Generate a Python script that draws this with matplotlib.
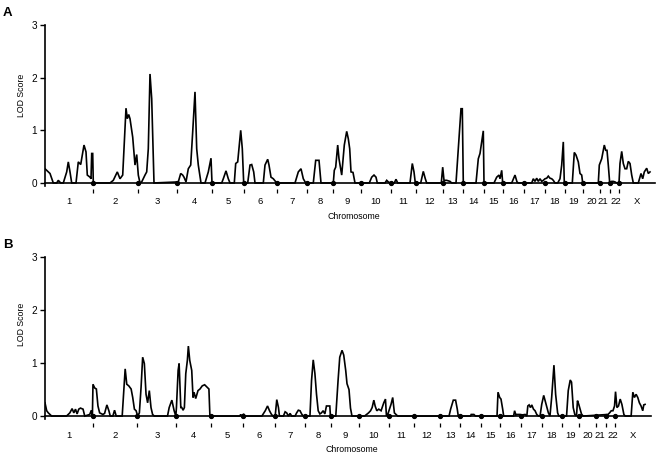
import matplotlib

matplotlib.use("Agg")
import matplotlib.pyplot as plt

plt.rcParams["font.family"] = ["Liberation Sans", "DejaVu Sans"]

# chromosome layout along the genome axis (cumulative position units)
chrom_labels = [str(i) for i in range(1, 23)] + ["X"]
chrom_ends = [48, 93, 132, 167, 199, 232, 262, 288, 316, 346, 371, 398,
              418, 439, 458, 479, 500, 520, 538, 555, 565, 574]
genome_len = 610

# panel A: LOD profile
pos_a = [0, 5, 8.3, 11.7, 13.3, 15.7, 18.3, 21.7, 23.3, 25, 26.7, 31, 33.3, 35.7, 39, 41, 42.3, 45, 46, 46.7, 47.7, 48.3,
         65, 68.3, 72.3, 75, 77.7, 81, 82.3, 83.7, 85, 87.7, 90, 91.7, 93.3, 95,
         96.7, 100, 101.7, 103.3, 105, 106.7, 109,
         133.3, 135.7, 137.7, 139, 141, 143.3, 145.7, 147.7, 150, 151.7, 153.3, 156, 160, 163.3, 166, 167,
         176.7, 178.3, 181, 183.3, 185, 189.3, 190.7, 192.7, 195.7, 197.3, 198.7,
         202.7, 205, 206.7, 208.7, 210, 218.3, 220, 222.7, 224, 226, 228.3, 231.7,
         250, 253.3, 256, 258.3, 260.7,
         268.3, 270.7, 274, 276,
         288.3, 289.3, 290.7, 292.7, 294, 296.7, 299.3, 301.7, 303.3, 304.7, 306, 308, 310,
         324.3, 326.7, 329, 331, 332.3, 340, 341.7, 343.3, 345, 349.3, 351, 352.7,
         365, 367.3, 369, 370.3,
         375.7, 378.3, 380.3, 381.7, 396.3, 397.7, 399, 401.7, 405, 406.7,
         411, 413.3, 416, 417.3, 418.3,
         431, 433.3, 435, 437.3, 438.3, 439,
         449, 451.7, 454, 455, 456.7, 457.7,
         466.7, 470, 472, 473.3,
         486.7, 488.3, 490, 491.7, 493.3, 495, 496.7, 498.3, 500, 501.7, 503.3, 505, 506.7, 508.3, 510,
         512.7, 515, 516.7, 518.3, 519.3,
         527.3, 529.3, 531, 533.3, 535, 536.7, 537.7,
         553.3, 554.3, 556.7, 559.3, 560.7, 562, 563.3, 564.7,
         566.7, 568.3, 570, 571.7,
         574, 575, 576.7, 578.3, 580, 581.7, 583.3, 585, 586.7, 588.3,
         593.3, 596, 597.7, 599.3, 601.7, 603.3, 605]
lod_a = [0.27, 0.18, 0, 0, 0.05, 0, 0, 0.21, 0.40, 0.21, 0, 0, 0.40, 0.35, 0.72, 0.59, 0.15, 0.11, 0.08, 0.56, 0.56, 0,
         0, 0.05, 0.21, 0.08, 0.15, 1.42, 1.22, 1.30, 1.22, 0.87, 0.34, 0.54, 0.15, 0,
         0.02, 0.15, 0.21, 0.65, 2.07, 1.6, 0,
         0.02, 0.18, 0.15, 0.11, 0.02, 0.27, 0.34, 0.97, 1.73, 0.65, 0.34, 0, 0, 0.21, 0.47, 0,
         0, 0.08, 0.23, 0.08, 0, 0, 0.37, 0.40, 1.0, 0.65, 0,
         0, 0.34, 0.35, 0.21, 0, 0, 0.34, 0.45, 0.34, 0.11, 0.08, 0,
         0, 0.21, 0.27, 0.08, 0,
         0, 0.43, 0.43, 0,
         0, 0.24, 0.30, 0.72, 0.46, 0.15, 0.72, 0.98, 0.84, 0.65, 0.21, 0.2, 0,
         0, 0.11, 0.15, 0.11, 0, 0, 0.05, 0.02, 0, 0, 0.07, 0,
         0, 0.37, 0.21, 0,
         0, 0.22, 0.08, 0, 0, 0.30, 0.05, 0.05, 0.03, 0,
         0, 0.65, 1.41, 1.41, 0,
         0, 0.46, 0.56, 0.87, 0.99, 0,
         0, 0.11, 0.15, 0.08, 0.24, 0,
         0, 0.15, 0.02, 0,
         0, 0.08, 0.03, 0.09, 0.03, 0.08, 0.03, 0.05, 0.08, 0.09, 0.13, 0.09, 0.08, 0.05, 0,
         0, 0.08, 0.34, 0.78, 0,
         0, 0.58, 0.53, 0.40, 0.18, 0.15, 0,
         0, 0.34, 0.46, 0.72, 0.62, 0.62, 0.34, 0,
         0.03, 0.03, 0.02, 0,
         0, 0.37, 0.60, 0.37, 0.27, 0.27, 0.41, 0.37, 0.15, 0,
         0, 0.18, 0.08, 0.21, 0.28, 0.18, 0.21]

# panel B: LOD profile
pos_b = [0, 1.7, 3.3, 5, 6.7,
         21.7, 25, 27.3, 29, 30.7, 32.3, 34, 35.7, 38.3, 40, 45, 46.7, 47.3,
         47.7, 48.3, 50, 51.7, 53.3, 55, 58.3, 60, 62.3, 64.3, 65.7, 68.3, 70, 71.7,
         77.7, 80.7, 82.3, 84.3, 86.7, 88.3, 90, 91.7, 93.3,
         95, 96.7, 98.3, 100, 101.7, 103.3, 105, 106.7, 108.3, 110,
         123.3, 125, 127.7, 130, 131.7,
         132.3, 134, 135, 136.7, 137.7, 139, 140.3, 141.7, 143.3, 144.3, 145.7, 147.7, 149, 150, 151.7,
         154, 156, 158.3, 160.7, 163.3, 165, 166,
         196, 197, 198, 200, 201,
         218.3, 221.7, 224, 226, 227.7, 229.3, 231.7, 233.3, 235, 236,
         240, 241.7, 243.3, 245, 246.7, 248.3, 251.7, 253.3, 255, 256.7, 258.3, 260,
         266.7, 268.3, 270, 271.7, 273.3, 275, 276.7, 278.3, 280, 281.7, 283.3, 286.7, 287.3,
         292.7, 295, 296.7, 299, 300.7, 302.7, 304, 305.3, 306, 307.5, 309,
         321.7, 325.7, 327.7, 329.3, 331, 332.3, 334, 336, 338.3, 341, 342.7, 343.7,
         345, 348.3, 350, 351.7, 353.3, 355,
         406.7, 408.3, 411, 413.3, 415, 416,
         428.3, 429, 431.7, 433.3,
         455, 456, 457.7, 459, 460.7, 461.7, 471.7, 472.7, 474, 475,
         478.3, 480, 483.3, 485, 486, 487.3, 488.7, 490, 491.7, 493.3, 495, 496.7,
         498.3, 500, 502, 504, 506.7, 508.3, 510, 512.3, 514, 516, 517.3,
         525, 526.7, 528.7, 530, 531.7, 533.3, 535, 536, 537.3, 538.7, 540, 541.7,
         566.7, 568.3, 570, 571.7, 573.3, 574.3, 575.7, 577.3, 579, 580.7, 582.7, 584,
         590, 591.7, 593.3, 595, 596.7, 598.3, 600, 601.7, 602.7, 604]
lod_b = [0.25, 0.10, 0.06, 0.03, 0,
         0, 0.06, 0.14, 0.06, 0.13, 0.04, 0.13, 0.15, 0.13, 0, 0.03, 0.11, 0,
         0, 0.60, 0.53, 0.51, 0.19, 0.06, 0.03, 0.05, 0.21, 0.10, 0, 0, 0.11, 0,
         0, 0.89, 0.60, 0.57, 0.51, 0.35, 0.13, 0.10, 0,
         0.06, 0.54, 1.11, 0.99, 0.41, 0.25, 0.48, 0.16, 0.03, 0,
         0, 0.16, 0.30, 0.10, 0,
         0.16, 0.86, 0.99, 0.16, 0.16, 0.11, 0.16, 0.80, 1.05, 1.32, 1.05, 0.86, 0.35, 0.45, 0.33,
         0.48, 0.51, 0.57, 0.59, 0.54, 0.51, 0,
         0, 0.03, 0, 0.04, 0,
         0, 0.10, 0.19, 0.10, 0.04, 0, 0, 0.31, 0.16, 0,
         0, 0.08, 0.06, 0, 0.05, 0, 0, 0.06, 0.11, 0.10, 0.04, 0,
         0, 0.67, 1.06, 0.80, 0.41, 0.10, 0.04, 0.06, 0.10, 0.04, 0.19, 0.19, 0,
         0, 0.67, 1.11, 1.24, 1.15, 0.86, 0.61, 0.54, 0.5, 0.15, 0,
         0, 0.06, 0.10, 0.16, 0.30, 0.19, 0.10, 0.13, 0.10, 0.25, 0.32, 0,
         0.03, 0.22, 0.35, 0.06, 0.03, 0,
         0, 0.13, 0.30, 0.30, 0.13, 0,
         0, 0.03, 0.03, 0,
         0, 0.45, 0.35, 0.32, 0.13, 0, 0, 0.10, 0.02, 0.03,
         0.03, 0.02, 0.03, 0, 0.19, 0.21, 0.16, 0.21, 0.13, 0.10, 0.03, 0,
         0, 0.22, 0.39, 0.25, 0.06, 0, 0.35, 0.96, 0.41, 0.06, 0,
         0, 0.48, 0.68, 0.64, 0.16, 0.03, 0, 0.29, 0.22, 0.13, 0.04, 0,
         0.03, 0.06, 0.10, 0.10, 0.19, 0.46, 0.16, 0.19, 0.32, 0.22, 0.03, 0,
         0, 0.45, 0.35, 0.41, 0.35, 0.25, 0.19, 0.10, 0.21, 0.22]

W, H = 658, 458
# "21" and "22" sit in narrow slots; shift them apart a little so they don't collide
label_nudge = {"21": -1.8, "22": 1.8}


def _panel(ax, pos, lod, letter, label_y):
    ax.plot(pos, lod, color="black", lw=1.2, solid_joinstyle="miter")
    # chromosome boundaries: dot on the axis, small tick below it
    ax.plot(chrom_ends, [0] * len(chrom_ends), "o", color="black", ms=2.8, clip_on=False)
    ax.plot(chrom_ends, [-0.16] * len(chrom_ends), "|", color="black", ms=2.3, mew=0.9,
            clip_on=False)
    starts = [0] + chrom_ends
    ends = chrom_ends + [genome_len]
    for lab, s, e in zip(chrom_labels, starts, ends):
        x = (s + e) / 2 + label_nudge.get(lab, 0)
        ax.text(x, -0.36, lab, ha="center", va="center", fontsize=6.8)
    ax.text(309, -0.63, "Chromosome", ha="center", va="center", fontsize=6.3)

    ax.set_xlim(0, genome_len)
    ax.set_ylim(-0.05, 3)
    ax.set_yticks([0, 1, 2, 3])
    ax.set_xticks([])
    ax.spines["top"].set_visible(False)
    ax.spines["right"].set_visible(False)
    ax.spines["bottom"].set_position(("data", 0))
    ax.spines["left"].set_linewidth(1.2)
    ax.spines["bottom"].set_linewidth(1.2)
    ax.tick_params(axis="y", length=3.5, width=1.0, pad=2, labelsize=7.2)
    fig = ax.figure
    fig.text(21.5 / W, 1 - label_y / H, "LOD Score", rotation=90, ha="center", va="center",
             fontsize=6.3)
    top = 1 - ax.get_position().y1
    fig.text(3 / W, 1 - (top * H - 12) / H, letter, ha="left", va="center",
             fontsize=9.5, fontweight="bold")


fig = plt.figure(figsize=(W / 100, H / 100), dpi=100)
ax_a = fig.add_axes([45 / W, 1 - 185.6 / H, 610 / W, (185.6 - 25) / H])
ax_b = fig.add_axes([45 / W, 1 - 418.7 / H, 606 / W, (418.7 - 257) / H])
_panel(ax_a, pos_a, lod_a, "A", 95)
_panel(ax_b, pos_b, lod_b, "B", 324)
fig.savefig("out.png", dpi=100)
